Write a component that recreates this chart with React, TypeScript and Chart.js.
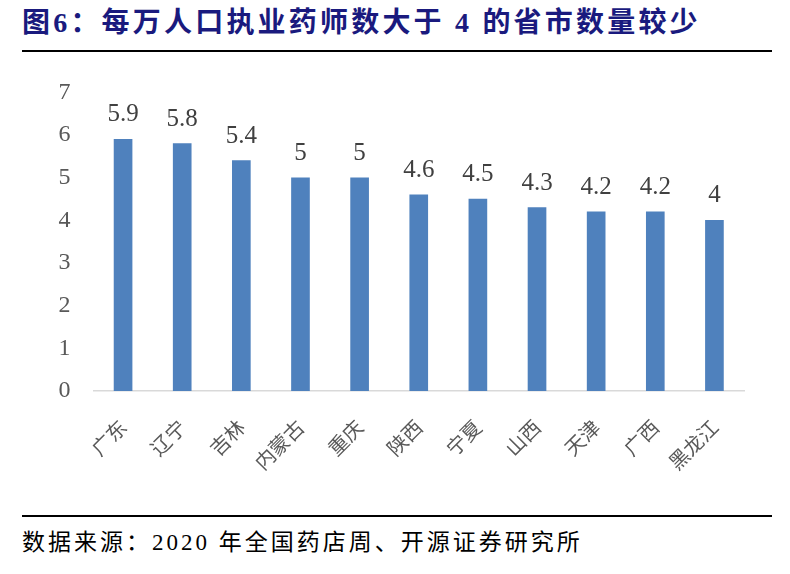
import React, { useEffect, useRef } from "react";
import { Chart, registerables } from "chart.js";

Chart.register(...registerables);

const provinces = ["广东", "辽宁", "吉林", "内蒙古", "重庆", "陕西", "宁夏", "山西", "天津", "广西", "黑龙江"];
const pharmacistsPer10k = [5.9, 5.8, 5.4, 5, 5, 4.6, 4.5, 4.3, 4.2, 4.2, 4];
const yTicks = [0, 1, 2, 3, 4, 5, 6, 7];

const titleText = "图6：每万人口执业药师数大于 4 的省市数量较少";
const sourceText = "数据来源：2020 年全国药店周、开源证券研究所";

const valueLabelPlugin = {
  id: "valueLabels",
  afterDatasetsDraw(chart: any) {
    const ctx = chart.ctx;
    const meta = chart.getDatasetMeta(0);
    ctx.save();
    ctx.font = '25px "Liberation Serif", "Times New Roman", serif';
    ctx.fillStyle = "#404040";
    ctx.textAlign = "center";
    ctx.textBaseline = "alphabetic";
    meta.data.forEach((bar: any, i: number) => {
      ctx.fillText(String(pharmacistsPer10k[i]), bar.x, bar.y - 18);
    });
    ctx.restore();
  },
};

export default function App() {
  const canvasRef = useRef<HTMLCanvasElement | null>(null);

  useEffect(() => {
    if (!canvasRef.current) return;
    const chart = new Chart(canvasRef.current, {
      type: "bar",
      data: {
        labels: provinces,
        datasets: [
          {
            data: pharmacistsPer10k,
            backgroundColor: "#4F81BD",
            borderWidth: 0,
            barThickness: 18,
          },
        ],
      },
      options: {
        animation: false,
        responsive: false,
        maintainAspectRatio: false,
        layout: { padding: { top: 27, right: 46, left: 0, bottom: 0 } },
        plugins: {
          legend: { display: false },
          tooltip: { enabled: false },
        },
        scales: {
          x: {
            grid: { display: false, drawTicks: false },
            border: { display: true, color: "#D9D9D9", width: 1.5 },
            ticks: {
              color: "#595959",
              font: { family: '"Noto Sans CJK SC", sans-serif', size: 20 },
              minRotation: 45,
              maxRotation: 45,
              padding: 24,
            },
            afterFit: (scale: any) => {
              scale.height = 119;
            },
          },
          y: {
            min: 0,
            max: 7,
            afterBuildTicks: (scale: any) => {
              scale.ticks = yTicks.map((v) => ({ value: v }));
            },
            grid: { display: false, drawTicks: false },
            border: { display: false },
            ticks: {
              color: "#595959",
              font: { family: '"Liberation Serif", "Times New Roman", serif', size: 24 },
              padding: 23,
            },
            afterFit: (scale: any) => {
              scale.width = 93.5;
            },
          },
        },
      },
      plugins: [valueLabelPlugin],
    });
    return () => chart.destroy();
  }, []);

  return (
    <div
      style={{
        position: "fixed",
        left: 0,
        top: 0,
        width: 790,
        height: 574,
        background: "#ffffff",
        overflow: "hidden",
      }}
    >
      <div
        style={{
          position: "absolute",
          left: 22,
          top: 5,
          whiteSpace: "nowrap",
          fontFamily: '"Liberation Serif", "Noto Sans CJK SC", serif',
          fontWeight: "bold",
          fontSize: 28,
          letterSpacing: 3.2,
          color: "#1A1A7E",
          lineHeight: "36px",
        }}
      >
        {titleText}
      </div>
      <div style={{ position: "absolute", left: 22, top: 50, width: 750, height: 2, background: "#000" }} />
      <canvas
        ref={canvasRef}
        width={790}
        height={455}
        style={{ position: "absolute", left: 0, top: 55, width: 790, height: 455 }}
      />
      <div style={{ position: "absolute", left: 22, top: 515, width: 750, height: 2, background: "#000" }} />
      <div
        style={{
          position: "absolute",
          left: 22,
          top: 527,
          whiteSpace: "nowrap",
          fontFamily: '"Liberation Serif", "Noto Sans CJK SC", serif',
          fontSize: 23,
          letterSpacing: 3,
          color: "#000",
          lineHeight: "32px",
        }}
      >
        {sourceText}
      </div>
    </div>
  );
}
